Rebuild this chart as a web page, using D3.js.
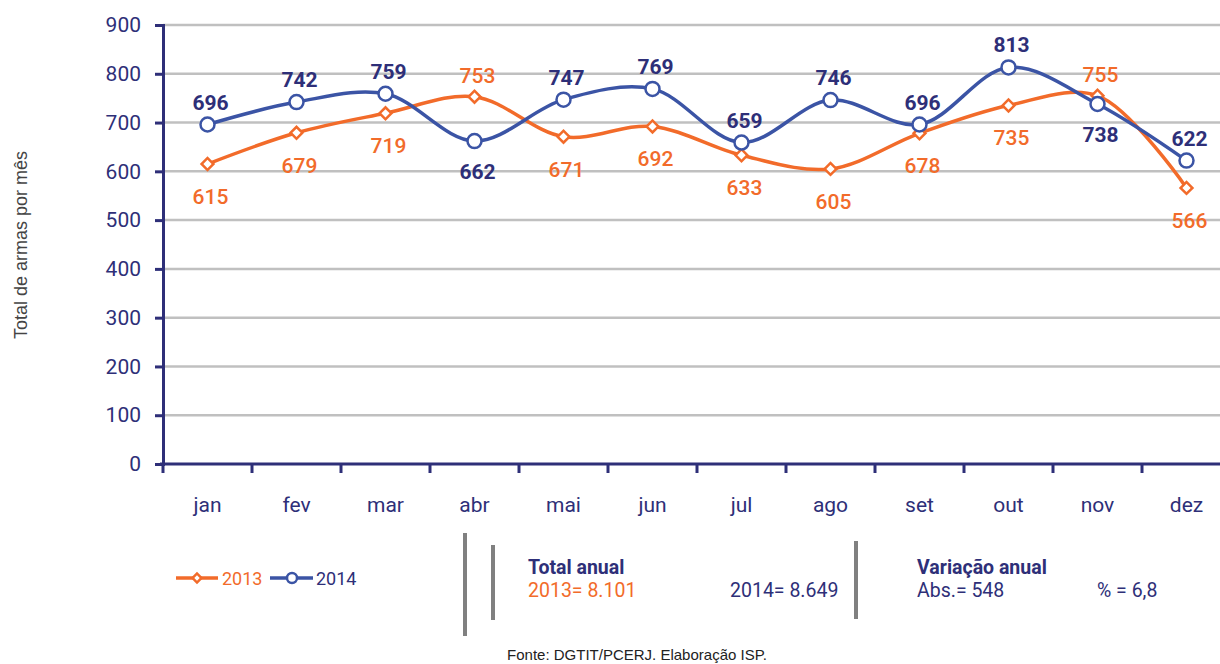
<!DOCTYPE html>
<html>
<head>
<meta charset="utf-8">
<script src="https://cdn.jsdelivr.net/npm/d3@7"></script>
<style>
  body { margin: 0; background: #fff; }
  svg text { font-family: "Liberation Sans Narrow", "Arial Narrow", Roboto, sans-serif; }
</style>
</head>
<body>
<svg id="chart" width="1220" height="664"></svg>
<script>
const months = ['jan', 'fev', 'mar', 'abr', 'mai', 'jun', 'jul', 'ago', 'set', 'out', 'nov', 'dez'];
const values2013 = [615, 679, 719, 753, 671, 692, 633, 605, 678, 735, 755, 566];
const values2014 = [696, 742, 759, 662, 747, 769, 659, 746, 696, 813, 738, 622];
// label above (-1) or below (1) the point
const side2013 = [1, 1, 1, -1, 1, 1, 1, 1, 1, 1, -1, 1];
const side2014 = [-1, -1, -1, 1, -1, -1, -1, -1, -1, -1, 1, -1];
const yTicks = [0, 100, 200, 300, 400, 500, 600, 700, 800, 900];

const orange = '#f26b2a', blue = '#3b54a5', navy = '#2e2f78';

const svg = d3.select('#chart');
const x = d3.scaleBand().domain(months).range([163, 1231]);
const y = d3.scaleLinear().domain([0, 900]).range([464, 25]);
const cx = m => x(m) + x.bandwidth() / 2;

// gridlines
svg.append('g').selectAll('line').data(yTicks.filter(d => d > 0)).enter().append('line')
  .attr('x1', 163).attr('x2', 1220)
  .attr('y1', d => y(d)).attr('y2', d => y(d))
  .attr('stroke', '#c0c0c0').attr('stroke-width', 2.5);

// y axis
const yAxis = svg.append('g').attr('transform', 'translate(163,0)')
  .call(d3.axisLeft(y).tickValues(yTicks).tickSize(8).tickPadding(14));
yAxis.select('.domain').attr('stroke', navy).attr('stroke-width', 3);
yAxis.selectAll('.tick line').attr('stroke', navy).attr('stroke-width', 3);
yAxis.selectAll('.tick text').attr('fill', navy).attr('font-size', 21)
  .attr('font-family', '"Liberation Sans Narrow", Roboto, sans-serif');

// x axis
const xAxis = svg.append('g').attr('transform', 'translate(0,464)')
  .call(d3.axisBottom(x).tickSize(0).tickPadding(33));
xAxis.select('.domain').remove();
xAxis.selectAll('.tick text').attr('fill', navy).attr('font-size', 21)
  .attr('font-family', '"Liberation Sans Narrow", Roboto, sans-serif');
svg.append('line').attr('x1', 160).attr('x2', 1220).attr('y1', 464).attr('y2', 464)
  .attr('stroke', navy).attr('stroke-width', 3);
svg.append('g').selectAll('line').data(months).enter().append('line')
  .attr('x1', d => x(d)).attr('x2', d => x(d))
  .attr('y1', 464).attr('y2', 473)
  .attr('stroke', navy).attr('stroke-width', 3);

// y axis title
svg.append('text')
  .attr('transform', 'translate(27,245) rotate(-90)')
  .attr('text-anchor', 'middle')
  .attr('fill', '#444').attr('font-size', 18)
  .style('font-family', '"Liberation Sans", Arial, sans-serif')
  .text('Total de armas por mês');

const line = d3.line()
  .x((d, i) => cx(months[i]))
  .y(d => y(d))
  .curve(d3.curveCatmullRom.alpha(0.5));

svg.append('path').datum(values2013).attr('d', line)
  .attr('fill', 'none').attr('stroke', orange).attr('stroke-width', 3.5);
svg.append('path').datum(values2014).attr('d', line)
  .attr('fill', 'none').attr('stroke', blue).attr('stroke-width', 3.5);

const diamond = d3.symbol().type(d3.symbolSquare).size(70);

svg.append('g').selectAll('path').data(values2013).enter().append('path')
  .attr('d', diamond)
  .attr('transform', (d, i) => `translate(${cx(months[i])},${y(d)}) rotate(45)`)
  .attr('fill', '#fff').attr('stroke', orange).attr('stroke-width', 2.5);

svg.append('g').selectAll('circle').data(values2014).enter().append('circle')
  .attr('cx', (d, i) => cx(months[i])).attr('cy', d => y(d)).attr('r', 7)
  .attr('fill', '#fff').attr('stroke', blue).attr('stroke-width', 2.5);

// data labels
svg.append('g').selectAll('text').data(values2013).enter().append('text')
  .attr('x', (d, i) => cx(months[i]) + 3)
  .attr('y', (d, i) => y(d) + (side2013[i] > 0 ? 40 : -14))
  .attr('text-anchor', 'middle')
  .attr('fill', orange).attr('font-size', 21).attr('font-weight', 500)
  .text(d => d);

svg.append('g').selectAll('text').data(values2014).enter().append('text')
  .attr('x', (d, i) => cx(months[i]) + 3)
  .attr('y', (d, i) => y(d) + (side2014[i] > 0 ? 38 : -15))
  .attr('text-anchor', 'middle')
  .attr('fill', navy).attr('font-size', 21).attr('font-weight', 'bold')
  .text(d => d);

// legend
const legend = svg.append('g');
legend.append('line').attr('x1', 176).attr('x2', 218).attr('y1', 578).attr('y2', 578)
  .attr('stroke', orange).attr('stroke-width', 3.5);
legend.append('path').attr('d', d3.symbol().type(d3.symbolSquare).size(40))
  .attr('transform', 'translate(197,578) rotate(45)')
  .attr('fill', '#fff').attr('stroke', orange).attr('stroke-width', 2.5);
legend.append('text').attr('x', 222).attr('y', 585).attr('fill', orange).attr('font-size', 18).text('2013');
legend.append('line').attr('x1', 270).attr('x2', 313).attr('y1', 578).attr('y2', 578)
  .attr('stroke', blue).attr('stroke-width', 3.5);
legend.append('circle').attr('cx', 292).attr('cy', 578).attr('r', 5)
  .attr('fill', '#fff').attr('stroke', blue).attr('stroke-width', 2.5);
legend.append('text').attr('x', 316).attr('y', 585).attr('fill', navy).attr('font-size', 18).text('2014');

// separators
const seps = [[465, 533, 636], [493, 545, 620], [856, 541, 619]];
svg.append('g').selectAll('line').data(seps).enter().append('line')
  .attr('x1', d => d[0]).attr('x2', d => d[0])
  .attr('y1', d => d[1]).attr('y2', d => d[2])
  .attr('stroke', '#808080').attr('stroke-width', 4);

// annual summary
const info = svg.append('g').attr('font-size', 19.5);
info.append('text').attr('x', 528).attr('y', 574).attr('fill', navy).attr('font-weight', 'bold').text('Total anual');
info.append('text').attr('x', 528).attr('y', 597).attr('fill', orange).text('2013= 8.101');
info.append('text').attr('x', 730).attr('y', 597).attr('fill', navy).text('2014= 8.649');
info.append('text').attr('x', 917).attr('y', 574).attr('fill', navy).attr('font-weight', 'bold').text('Variação anual');
info.append('text').attr('x', 917).attr('y', 597).attr('fill', navy).text('Abs.= 548');
info.append('text').attr('x', 1097).attr('y', 597).attr('fill', navy).text('% = 6,8');

svg.append('text').attr('x', 637).attr('y', 660).attr('text-anchor', 'middle')
  .attr('fill', '#222').attr('font-size', 15)
  .style('font-family', '"Liberation Sans", Arial, sans-serif')
  .text('Fonte: DGTIT/PCERJ. Elaboração ISP.');
</script>
</body>
</html>
